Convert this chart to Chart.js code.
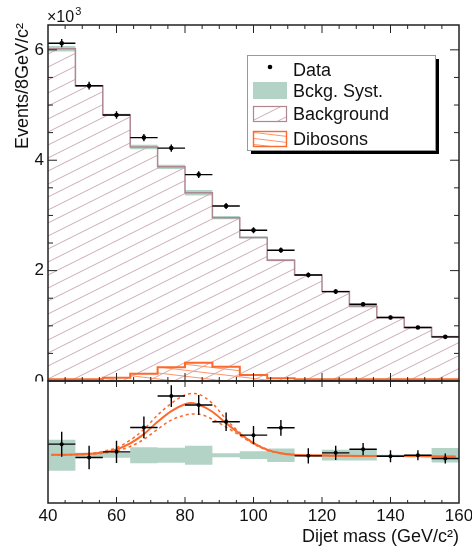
<!DOCTYPE html>
<html>
<head>
<meta charset="UTF-8">
<title>Dijet mass</title>
<script src="https://cdn.jsdelivr.net/npm/chart.js"></script>
<style>
  html, body { margin: 0; padding: 0; background: #fff; }
  #wrap { width: 472px; height: 548px; }
</style>
</head>
<body>
<div id="wrap"><canvas id="c" width="472" height="548"></canvas></div>
<script>
// bins of 8 GeV/c2
const binEdges = [40, 48, 56, 64, 72, 80, 88, 96, 104, 112, 120, 128, 136, 144, 152, 160];
// top panel, in units of 10^3 events
const dataTop = [6.12, 5.35, 4.82, 4.41, 4.22, 3.74, 3.17, 2.73, 2.37, 1.92, 1.62, 1.39, 1.15, 0.97, 0.80];
const bkgTop = [6.02, 5.35, 4.82, 4.24, 3.88, 3.41, 2.96, 2.60, 2.19, 1.92, 1.62, 1.36, 1.15, 0.97, 0.80];
const systTop = [0.05, 0.01, 0.02, 0.04, 0.04, 0.05, 0.03, 0.02, 0.02, 0.01, 0.01, 0.03, 0.01, 0.01, 0.02];
const dibTop = [0.03, 0.03, 0.06, 0.13, 0.25, 0.33, 0.26, 0.11, 0.05, 0.03, 0.03, 0.03, 0.03, 0.03, 0.03];
// data errors, events
const dataErr = [75, 70, 67, 65, 65, 60, 55, 54, 47, 45, 42, 37, 36, 30, 30];
// bottom panel: data - background, events
const resid = [66, -14, 20, 166, 354, 300, 200, 120, 164, -4, 14, 36, -6, 0, -20];
const systLow = [93, 15, 15, 48, 45, 57, 12, 23, 40, 4, 32, 32, 3, 3, 43];
// diboson fit in the bottom panel
const fitX = [41, 48, 52, 56, 60, 64, 68, 72, 76, 80, 82, 84, 88, 92, 96, 100, 104, 108, 112, 120, 140, 159];
const fitMid = [2, 4, 8, 16, 35, 71, 126, 200, 264, 305, 312, 303, 260, 192, 128, 72, 32, 12, 2, -2, -5, -8];
const fitUp = [2, 5, 10, 22, 45, 90, 155, 240, 310, 360, 370, 365, 310, 215, 135, 75, 35, 12, 3, -2, -5, -8];
const fitDown = [1, 3, 6, 12, 26, 52, 95, 155, 210, 240, 246, 245, 215, 168, 118, 68, 30, 10, 2, -2, -5, -8];
const xTicks = [40, 60, 80, 100, 120, 140, 160];
const yTicks = [0, 2, 4, 6];

const FONT = "'Liberation Sans', Arial, Helvetica, sans-serif";
const ORANGE = '#fb6a2c';
const GREEN = '#b4d3c7';
const MAUVE = '#ad8891';

const ctx = document.getElementById('c').getContext('2d');

function hatch(color, w, h, up) {
    const cv = document.createElement('canvas');
    cv.width = w; cv.height = h;
    const g = cv.getContext('2d');
    g.strokeStyle = color; g.lineWidth = 1;
    for (const k of [-h, 0, h]) {
        g.beginPath();
        if (up) { g.moveTo(0, h + k); g.lineTo(w, k); }
        else { g.moveTo(0, k); g.lineTo(w, h + k); }
        g.stroke();
    }
    return ctx.createPattern(cv, 'repeat');
}
const bkgHatch = hatch('#cdaab6', 26, 13, true);
const dibHatch = hatch('#ff9568', 50, 6, false);

const centers = binEdges.slice(0, -1).map((e, i) => (e + binEdges[i + 1]) / 2);

function steps(vals) {
    const pts = vals.map((v, i) => ({ x: binEdges[i], y: v }));
    pts.push({ x: binEdges[binEdges.length - 1], y: vals[vals.length - 1] });
    return pts;
}
function errorBars(vals, errs) {
    const pts = [];
    vals.forEach((v, i) => {
        const lo = binEdges[i], hi = binEdges[i + 1], c = centers[i];
        pts.push({ x: lo, y: v }, { x: hi, y: v }, { x: hi, y: null },
                 { x: c, y: v - errs[i] }, { x: c, y: v + errs[i] }, { x: c, y: null });
    });
    return pts;
}
const pts = (xs, ys) => xs.map((x, i) => ({ x: x, y: ys[i] }));
const clear = 'rgba(0,0,0,0)';

const rootPlot = {
    id: 'rootPlot',
    afterDraw(chart) {
        const c = chart.ctx, x = chart.scales.x, y = chart.scales.y, yr = chart.scales.yr;
        c.save();
        // lower half of the "0" label is covered by the ratio pad
        c.fillStyle = '#fff';
        c.fillRect(0, y.bottom + 0.5, x.left - 2, 16);

        c.strokeStyle = '#222';
        c.lineWidth = 1;
        c.beginPath();
        for (let v = 45; v < 160; v += 5) {
            const px = x.getPixelForValue(v);
            const big = v % 20 === 0;
            const l1 = big ? 8 : 4, l2 = big ? 6 : 3;
            c.moveTo(px, y.top); c.lineTo(px, y.top + l1);
            c.moveTo(px, y.bottom); c.lineTo(px, y.bottom - l1);
            c.moveTo(px, yr.top); c.lineTo(px, yr.top + l2);
            c.moveTo(px, yr.bottom); c.lineTo(px, yr.bottom - l2);
        }
        for (let t = 0.5; t <= 6.01; t += 0.5) {
            const py = y.getPixelForValue(t);
            const l = (Math.round(t * 2) % 4 === 0) ? 9 : 5;
            c.moveTo(x.left, py); c.lineTo(x.left + l, py);
            c.moveTo(x.right, py); c.lineTo(x.right - l, py);
        }
        c.stroke();

        c.lineWidth = 1.5;
        c.strokeRect(x.left, y.top, x.right - x.left, y.bottom - y.top);
        c.strokeRect(x.left, yr.top, x.right - x.left, yr.bottom - yr.top);

        // texts
        c.fillStyle = '#111';
        c.textBaseline = 'alphabetic';
        c.font = '16px ' + FONT;
        c.textAlign = 'left';
        c.fillText('\u00d710', 47, 22);
        const w10 = c.measureText('\u00d710').width;
        c.font = '11px ' + FONT;
        c.fillText('3', 47 + w10 + 1, 15);

        c.font = '18px ' + FONT;
        c.textAlign = 'right';
        c.fillText('Dijet mass (GeV/c\u00b2)', x.right, 542);

        c.save();
        c.translate(28, 23);
        c.rotate(-Math.PI / 2);
        c.fillText('Events/8GeV/c\u00b2', 0, 0);
        c.restore();

        // legend
        const lx = 247, ly = 55, lw = 188, lh = 95;
        c.fillStyle = '#000';
        c.fillRect(lx + 4, ly + 4, lw, lh);
        c.fillStyle = '#fff';
        c.fillRect(lx, ly, lw, lh);
        c.strokeStyle = '#999'; c.lineWidth = 1;
        c.strokeRect(lx + 0.5, ly + 0.5, lw, lh);

        c.fillStyle = '#000';
        c.beginPath(); c.arc(270, 67, 2.3, 0, Math.PI * 2); c.fill();
        c.fillStyle = GREEN;
        c.fillRect(253, 82, 34, 17);
        c.fillStyle = bkgHatch;
        c.fillRect(253, 106, 34, 16);
        c.strokeStyle = MAUVE; c.lineWidth = 1.2;
        c.strokeRect(253.5, 106.5, 33, 15);
        c.fillStyle = dibHatch;
        c.fillRect(253, 131, 34, 16);
        c.strokeStyle = ORANGE; c.lineWidth = 1.4;
        c.strokeRect(253.5, 131.5, 33, 15);

        c.fillStyle = '#111';
        c.textAlign = 'left';
        c.font = '18px ' + FONT;
        c.fillText('Data', 293, 76);
        c.fillText('Bckg. Syst.', 293, 97);
        c.fillText('Background', 293, 120);
        c.fillText('Dibosons', 293, 145);
        c.restore();
    }
};

new Chart(ctx, {
    type: 'line',
    data: {
        datasets: [
            { data: pts(centers, dataTop), yAxisID: 'y', showLine: false, pointRadius: 2.3,
              pointBackgroundColor: '#000', pointBorderWidth: 0, order: 0 },
            { data: errorBars(dataTop, dataErr.map(e => e / 1000)), yAxisID: 'y', borderColor: '#000',
              borderWidth: 1.4, pointRadius: 0, order: 1 },
            { data: steps(dibTop), yAxisID: 'y', stepped: true, borderColor: ORANGE, borderWidth: 2,
              backgroundColor: dibHatch, fill: 'origin', pointRadius: 0, order: 2 },
            { data: steps(bkgTop), yAxisID: 'y', stepped: true, borderColor: MAUVE, borderWidth: 1.5,
              backgroundColor: bkgHatch, fill: 'origin', pointRadius: 0, order: 3 },
            { data: steps(bkgTop.map((v, i) => v - systTop[i])), yAxisID: 'y', stepped: true,
              borderColor: clear, borderWidth: 0, pointRadius: 0, fill: false, order: 6 },
            { data: steps(bkgTop.map((v, i) => v + systTop[i])), yAxisID: 'y', stepped: true,
              borderColor: clear, borderWidth: 0, pointRadius: 0, backgroundColor: GREEN, fill: '-1', order: 5 },

            { data: pts(centers, resid), yAxisID: 'yr', showLine: false, pointRadius: 2,
              pointBackgroundColor: '#000', pointBorderWidth: 0, order: 0 },
            { data: errorBars(resid, dataErr), yAxisID: 'yr', borderColor: '#000',
              borderWidth: 1.4, pointRadius: 0, order: 1 },
            { data: pts(fitX, fitMid), yAxisID: 'yr', borderColor: ORANGE, borderWidth: 2,
              cubicInterpolationMode: 'monotone', pointRadius: 0, order: 2 },
            { data: pts(fitX, fitUp), yAxisID: 'yr', borderColor: ORANGE, borderWidth: 1.5, borderDash: [3, 3],
              cubicInterpolationMode: 'monotone', pointRadius: 0, order: 2 },
            { data: pts(fitX, fitDown), yAxisID: 'yr', borderColor: ORANGE, borderWidth: 1.5, borderDash: [3, 3],
              cubicInterpolationMode: 'monotone', pointRadius: 0, order: 2 },
            { data: steps(systLow.map(v => -v)), yAxisID: 'yr', stepped: true,
              borderColor: clear, borderWidth: 0, pointRadius: 0, fill: false, order: 8 },
            { data: steps(systLow), yAxisID: 'yr', stepped: true,
              borderColor: clear, borderWidth: 0, pointRadius: 0, backgroundColor: GREEN, fill: '-1', order: 7 }
        ]
    },
    options: {
        responsive: false,
        devicePixelRatio: 1,
        animation: false,
        events: [],
        layout: { padding: { top: 25, right: 13, left: 0, bottom: 0 } },
        plugins: { legend: { display: false }, tooltip: { enabled: false } },
        scales: {
            x: {
                type: 'linear', min: 40, max: 160,
                grid: { display: false, drawTicks: false }, border: { display: false },
                afterBuildTicks: s => { s.ticks = xTicks.map(v => ({ value: v })); },
                ticks: { color: '#111', padding: 3, maxRotation: 0, autoSkip: false, font: { family: FONT, size: 17 } },
                afterFit: s => { s.height = 45; s.paddingLeft = 0; s.paddingRight = 0; }
            },
            yr: {
                type: 'linear', min: -286, max: 444, stack: 'p', stackWeight: 122, weight: 1,
                grid: { display: false, drawTicks: false }, border: { display: false },
                ticks: { display: false },
                afterFit: s => { s.width = 48; s.paddingTop = 0; s.paddingBottom = 0; }
            },
            y: {
                type: 'linear', min: 0, max: 6.45, stack: 'p', stackWeight: 356, weight: 2,
                grid: { display: false, drawTicks: false }, border: { display: false },
                afterBuildTicks: s => { s.ticks = yTicks.map(v => ({ value: v })); },
                ticks: { color: '#111', padding: 4, font: { family: FONT, size: 17 } },
                afterFit: s => { s.width = 48; s.paddingTop = 0; s.paddingBottom = 0; }
            }
        }
    },
    plugins: [rootPlot]
});
</script>
</body>
</html>
